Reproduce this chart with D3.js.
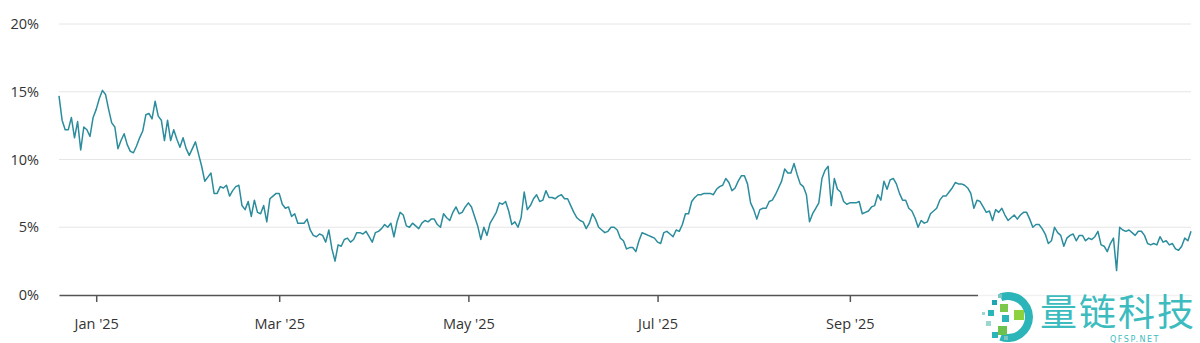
<!DOCTYPE html>
<html>
<head>
<meta charset="utf-8">
<script src="https://cdn.jsdelivr.net/npm/d3@7"></script>
<style>
  body { margin: 0; background: #fff; }
  svg { display: block; font-family: "Open Sans", sans-serif; }
</style>
</head>
<body>
<div id="chart"></div>
<script>
// daily values (%), starting 2024-12-20
var startDate = "2024-12-20";
var values = [
  14.7, 12.9, 12.2, 12.2, 13.1, 11.6, 12.8, 10.7, 12.4, 12.2,
  11.7, 13.1, 13.7, 14.5, 15.1, 14.8, 13.7, 12.7, 12.4, 10.8,
  11.4, 11.9, 11.1, 10.6, 10.5, 11.0, 11.6, 12.1, 13.3, 13.4,
  13.0, 14.3, 13.2, 12.9, 11.4, 12.9, 11.4, 12.2, 11.5, 10.9,
  11.6, 10.8, 10.3, 10.8, 11.3, 10.4, 9.5, 8.4, 8.7, 9.0,
  7.5, 7.5, 8.0, 7.9, 8.1, 7.3, 7.7, 8.0, 8.1, 6.6,
  6.3, 6.9, 5.8, 7.0, 6.1, 6.0, 6.6, 5.4, 7.1, 7.3,
  7.5, 7.5, 6.7, 6.4, 6.5, 5.8, 6.0, 5.3, 5.3, 5.3,
  5.6, 4.8, 4.4, 4.3, 4.5, 4.4, 3.9, 4.8, 3.4, 2.5,
  3.7, 3.6, 4.1, 4.2, 3.9, 4.1, 4.6, 4.6, 4.5, 4.7,
  4.3, 3.9, 4.6, 4.7, 4.9, 5.2, 5.0, 5.3, 4.3, 5.4,
  6.1, 5.9, 5.1, 5.0, 5.3, 5.1, 4.9, 5.3, 5.5, 5.4,
  5.6, 5.6, 5.2, 5.0, 6.0, 5.7, 5.5, 6.1, 6.5, 6.0,
  6.1, 6.5, 6.8, 6.5, 5.8, 5.1, 4.1, 5.0, 4.4, 5.3,
  5.7, 6.1, 6.8, 6.7, 6.9, 6.2, 5.2, 5.4, 5.0, 5.7,
  7.6, 6.3, 6.6, 7.1, 7.4, 6.9, 7.0, 7.7, 7.2, 7.2,
  7.1, 7.3, 7.4, 7.1, 7.1, 6.6, 6.1, 5.7, 5.5, 5.4,
  4.9, 5.3, 6.0, 5.6, 5.0, 4.8, 4.6, 4.7, 5.0, 5.0,
  4.8, 4.2, 4.0, 3.4, 3.5, 3.5, 3.2, 4.0, 4.6, 4.5,
  4.4, 4.3, 4.2, 3.9, 3.8, 4.6, 4.7, 4.5, 4.3, 4.8,
  4.7, 5.2, 6.0, 6.0, 6.9, 7.2, 7.4, 7.4, 7.5, 7.5,
  7.5, 7.4, 7.8, 8.0, 8.1, 8.6, 8.3, 7.7, 7.9, 8.4,
  8.8, 8.8, 8.2, 6.8, 6.3, 5.6, 6.3, 6.4, 6.4, 6.9,
  7.0, 7.4, 7.9, 8.4, 9.3, 9.0, 9.0, 9.7, 8.9, 8.2,
  8.0, 7.4, 5.4, 6.0, 6.4, 6.8, 8.6, 9.2, 9.5, 6.6,
  8.6, 7.8, 7.6, 6.9, 6.7, 6.8, 6.8, 6.8, 6.9, 6.0,
  6.1, 6.2, 6.5, 6.6, 7.4, 7.0, 8.4, 7.8, 8.5, 8.6,
  8.2, 7.5, 7.0, 7.0, 6.4, 6.2, 5.7, 5.0, 5.5, 5.3,
  5.4, 6.0, 6.2, 6.4, 7.0, 7.3, 7.3, 7.6, 7.9, 8.3,
  8.2, 8.2, 8.1, 7.9, 7.5, 6.4, 7.0, 6.9, 6.5, 6.1,
  6.2, 5.5, 6.3, 6.1, 6.4, 5.9, 5.5, 5.7, 5.9, 5.6,
  5.9, 6.1, 6.1, 5.6, 5.0, 5.2, 5.2, 4.9, 4.5, 3.8,
  4.0, 5.0, 4.6, 4.4, 3.6, 4.2, 4.4, 4.5, 4.0, 4.4,
  4.4, 4.0, 4.2, 4.1, 4.3, 4.7, 3.7, 3.6, 3.2, 3.8,
  4.2, 1.8, 5.0, 4.8, 4.7, 4.8, 4.6, 4.4, 4.7, 4.7,
  4.4, 3.8, 3.7, 3.8, 3.7, 4.3, 3.9, 4.0, 3.7, 3.8,
  3.4, 3.3, 3.6, 4.2, 4.0, 4.7
];
var yTicks = [0, 5, 10, 15, 20];
// Nov '25 sits under the watermark in the reference
var xTicks = ["2025-01-01", "2025-03-01", "2025-05-01", "2025-07-01", "2025-09-01"];

var W = 1200, H = 343;
var margin = {top: 24, right: 9, bottom: 48, left: 59};
var width = W - margin.left - margin.right,
    height = H - margin.top - margin.bottom;

var parse = d3.timeParse("%Y-%m-%d");
var t0 = parse(startDate);
var data = values.map(function(v, i) { return {date: d3.timeDay.offset(t0, i), value: v}; });

var svg = d3.select("#chart")
  .append("svg")
    .attr("width", W)
    .attr("height", H)
  .append("g")
    .attr("transform", "translate(" + margin.left + "," + margin.top + ")");

var x = d3.scaleTime()
  .domain(d3.extent(data, function(d) { return d.date; }))
  .range([0, width]);

var y = d3.scaleLinear()
  .domain([0, 20])
  .range([height, 0]);

// gridlines
svg.append("g")
  .selectAll("line")
  .data(yTicks.filter(function(t) { return t > 0; }))
  .enter()
  .append("line")
    .attr("x1", 0)
    .attr("x2", width)
    .attr("y1", function(d) { return y(d); })
    .attr("y2", function(d) { return y(d); })
    .attr("stroke", "#e6e6e6")
    .attr("stroke-width", 1);

// y labels
var yAxis = svg.append("g")
  .call(d3.axisLeft(y).tickValues(yTicks).tickSize(0).tickPadding(20)
    .tickFormat(function(d) { return d + "%"; }));
yAxis.select(".domain").remove();
yAxis.selectAll("text")
  .attr("font-size", 14.5)
  .attr("font-family", "Open Sans, sans-serif")
  .attr("fill", "#333");

// x axis
var xAxis = svg.append("g")
  .attr("transform", "translate(0," + height + ")")
  .call(d3.axisBottom(x)
    .tickValues(xTicks.map(parse))
    .tickSize(7)
    .tickSizeOuter(0)
    .tickPadding(17)
    .tickFormat(d3.timeFormat("%b '%y")));
xAxis.select(".domain")
  .attr("stroke", "#555")
  .attr("stroke-width", 1.5);
xAxis.selectAll(".tick line")
  .attr("stroke", "#555")
  .attr("stroke-width", 1.5);
xAxis.selectAll("text")
  .attr("font-size", 14.5)
  .attr("font-family", "Open Sans, sans-serif")
  .attr("fill", "#333");

// series line
var line = d3.line()
  .x(function(d) { return x(d.date); })
  .y(function(d) { return y(d.value); });

svg.append("path")
  .datum(data)
  .attr("fill", "none")
  .attr("stroke", "#2a8c9c")
  .attr("stroke-width", 1.5)
  .attr("stroke-linejoin", "round")
  .attr("d", line);

// watermark
var wm = d3.select("#chart svg").append("g").attr("transform", "translate(978,288)");
wm.append("rect").attr("x", 0).attr("y", 4).attr("width", 222).attr("height", 55).attr("fill", "#fff").attr("opacity", 0.92);
wm.append("path")
  .attr("d", d3.arc()({innerRadius: 17, outerRadius: 25, startAngle: -0.35, endAngle: Math.PI + 0.35}))
  .attr("transform", "translate(30,29)")
  .attr("fill", "#2bb5b8");
var sq = [
  [14, 12, 5, "#1fa6b0"], [20, 6, 4, "#7bc6c2"], [22, 16, 8, "#7cc84a"], [10, 22, 6, "#2bb5b8"],
  [36, 22, 10, "#8ed13f"], [24, 27, 7, "#2bb5b8"], [20, 38, 9, "#6dc24d"], [8, 33, 5, "#9bd6cf"],
  [14, 44, 6, "#2bb5b8"], [4, 24, 3, "#9bd6cf"], [26, 48, 4, "#7bc6c2"]
];
wm.selectAll("rect.sq").data(sq).enter().append("rect")
  .attr("class", "sq")
  .attr("x", function(d) { return d[0]; })
  .attr("y", function(d) { return d[1]; })
  .attr("width", function(d) { return d[2]; })
  .attr("height", function(d) { return d[2]; })
  .attr("fill", function(d) { return d[3]; });
wm.append("text")
  .attr("x", 62).attr("y", 38)
  .attr("font-family", "Noto Sans CJK SC, sans-serif")
  .attr("font-size", 37)
  .attr("fill", "#3dbcc0")
  .attr("letter-spacing", 2)
  .text("量链科技");
wm.append("text")
  .attr("x", 157).attr("y", 54)
  .attr("text-anchor", "middle")
  .attr("font-family", "DejaVu Sans, sans-serif")
  .attr("font-size", 8)
  .attr("letter-spacing", 1.5)
  .attr("fill", "#3dbcc0")
  .text("QFSP.NET");
</script>
</body>
</html>
